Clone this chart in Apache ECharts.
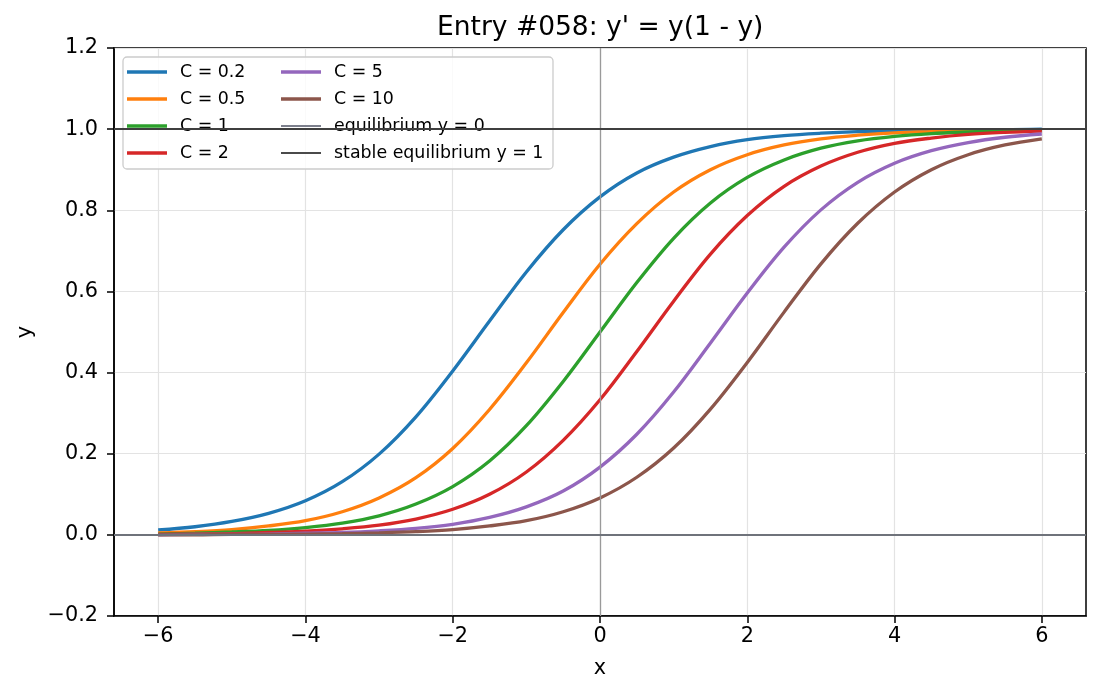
<!DOCTYPE html>
<html>
<head>
<meta charset="utf-8">
<script src="https://cdn.jsdelivr.net/npm/echarts@6/dist/echarts.min.js"></script>
<style>
  html, body { margin: 0; padding: 0; background: #fff; }
  #chart { width: 1102px; height: 696px; }
</style>
</head>
<body>
<div id="chart"></div>
<script>
// x samples
const xs = [-6, -5.5, -5, -4.5, -4, -3.5, -3, -2.5, -2, -1.5, -1, -0.5, 0,
            0.5, 1, 1.5, 2, 2.5, 3, 3.5, 4, 4.5, 5, 5.5, 6];
const yC02 = [0.012, 0.020, 0.033, 0.053, 0.084, 0.131, 0.199, 0.291, 0.404, 0.527, 0.648, 0.752, 0.833,
              0.892, 0.931, 0.957, 0.974, 0.984, 0.990, 0.994, 0.996, 0.998, 0.999, 0.999, 1.000];
const yC05 = [0.005, 0.008, 0.013, 0.022, 0.035, 0.057, 0.091, 0.141, 0.213, 0.309, 0.424, 0.548, 0.667,
              0.767, 0.845, 0.900, 0.937, 0.961, 0.976, 0.985, 0.991, 0.994, 0.997, 0.998, 0.999];
const yC1 = [0.002, 0.004, 0.007, 0.011, 0.018, 0.029, 0.047, 0.076, 0.119, 0.182, 0.269, 0.378, 0.500,
             0.622, 0.731, 0.818, 0.881, 0.924, 0.953, 0.971, 0.982, 0.989, 0.993, 0.996, 0.998];
const yC2 = [0.001, 0.002, 0.003, 0.006, 0.009, 0.015, 0.024, 0.039, 0.063, 0.100, 0.155, 0.233, 0.333,
             0.452, 0.576, 0.692, 0.787, 0.859, 0.909, 0.943, 0.965, 0.978, 0.987, 0.992, 0.995];
const yC5 = [0.000, 0.001, 0.001, 0.002, 0.004, 0.006, 0.010, 0.016, 0.026, 0.043, 0.069, 0.108, 0.167,
             0.248, 0.352, 0.473, 0.596, 0.709, 0.801, 0.869, 0.916, 0.947, 0.967, 0.980, 0.988];
const yC10 = [0.000, 0.000, 0.001, 0.001, 0.002, 0.003, 0.005, 0.008, 0.013, 0.022, 0.035, 0.057, 0.091,
              0.142, 0.214, 0.310, 0.425, 0.549, 0.668, 0.768, 0.845, 0.900, 0.937, 0.961, 0.976];

const curveNames = ['C = 0.2', 'C = 0.5', 'C = 1', 'C = 2', 'C = 5', 'C = 10'];
const curveValues = [yC02, yC05, yC1, yC2, yC5, yC10];
const colors = ['#1f77b4', '#ff7f0e', '#2ca02c', '#d62728', '#9467bd', '#8c564b'];

const xTicks = [-6, -4, -2, 0, 2, 4, 6];
const xRange = [-6.6, 6.6];
const yRange = [-0.2, 1.2];
const equilibria = [0, 1];

const FONT = 'DejaVu Sans';
const minus = s => String(s).replace('-', '\u2212');

const chart = echarts.init(document.getElementById('chart'));

const series = curveNames.map((name, i) => ({
    name: name,
    type: 'line',
    data: xs.map((x, j) => [x, curveValues[i][j]]),
    smooth: 0.35,
    symbol: 'none',
    color: colors[i],
    lineStyle: { width: 3.3, color: colors[i] },
    z: 2
}));

// vertical reference at x = 0 (no legend entry)
series.push({
    name: 'xzero',
    type: 'line',
    data: [],
    symbol: 'none',
    silent: true,
    markLine: {
        symbol: 'none', silent: true, label: { show: false },
        lineStyle: { color: '#9a9a9a', width: 1.3, type: 'solid' },
        data: [{ xAxis: 0 }]
    }
});
series.push({
    name: 'equilibrium y = 0',
    type: 'line',
    data: [],
    symbol: 'none',
    color: '#7c7f8c',
    lineStyle: { width: 2, color: '#7c7f8c' },
    markLine: {
        symbol: 'none', silent: true, label: { show: false },
        lineStyle: { color: '#6f737b', width: 2, type: 'solid' },
        data: [{ yAxis: equilibria[0] }]
    },
    z: 3
});
series.push({
    name: 'stable equilibrium y = 1',
    type: 'line',
    data: [],
    symbol: 'none',
    color: '#4a4a4a',
    lineStyle: { width: 2, color: '#4a4a4a' },
    markLine: {
        symbol: 'none', silent: true, label: { show: false },
        lineStyle: { color: '#3f3f3f', width: 2, type: 'solid' },
        data: [{ yAxis: equilibria[1] }]
    },
    z: 3
});

const thickIcon = 'path://M0,0L40,0L40,3.3L0,3.3Z';
const thinIcon = 'path://M0,0L40,0L40,2L0,2Z';

const legendBase = {
    orient: 'vertical',
    top: 63,
    padding: 0,
    itemWidth: 40,
    itemHeight: 14,
    itemGap: 9,
    symbolKeepAspect: true,
    textStyle: { fontFamily: FONT, fontSize: 17.4, color: '#000', lineHeight: 18, padding: [0, 0, 0, 8] },
    selectedMode: false,
    z: 5
};

const option = {
    animation: false,
    backgroundColor: '#fff',
    textStyle: { fontFamily: FONT },
    title: {
        text: "Entry #058: y' = y(1 - y)",
        left: 437,
        top: 15,
        padding: 0,
        textStyle: { fontFamily: FONT, fontSize: 26.5, fontWeight: 'normal', color: '#000' }
    },
    grid: {
        left: 114, right: 16, top: 48, bottom: 80,
        show: true, borderColor: '#000', borderWidth: 1.5, backgroundColor: 'transparent'
    },
    graphic: [{
        type: 'rect',
        shape: { x: 123, y: 57, width: 430, height: 112, r: 4 },
        style: { fill: 'rgba(255,255,255,0.8)', stroke: '#cccccc', lineWidth: 1.3 },
        z: 4,
        silent: true
    }],
    legend: [
        Object.assign({}, legendBase, {
            left: 127,
            data: curveNames.slice(0, 4).map(n => ({ name: n, icon: thickIcon }))
        }),
        Object.assign({}, legendBase, {
            left: 281,
            data: curveNames.slice(4).map(n => ({ name: n, icon: thickIcon })).concat([
                { name: 'equilibrium y = 0', icon: thinIcon },
                { name: 'stable equilibrium y = 1', icon: thinIcon }
            ])
        })
    ],
    xAxis: {
        type: 'value',
        min: xRange[0],
        max: xRange[1],
        name: 'x',
        nameLocation: 'middle',
        nameGap: 42,
        nameTextStyle: { fontFamily: FONT, fontSize: 20.8, color: '#000' },
        axisLine: { show: true, onZero: false, lineStyle: { color: '#000', width: 1.5 } },
        axisTick: { show: true, length: 7, customValues: xTicks, lineStyle: { color: '#000', width: 1.5 } },
        axisLabel: {
            customValues: xTicks, margin: 10,
            fontFamily: FONT, fontSize: 20.8, color: '#000',
            formatter: v => minus(v)
        },
        splitLine: { show: true, lineStyle: { color: '#e3e3e3', width: 1.2 } }
    },
    yAxis: {
        type: 'value',
        min: yRange[0],
        max: yRange[1],
        interval: 0.2,
        name: 'y',
        nameLocation: 'middle',
        nameGap: 78,
        nameTextStyle: { fontFamily: FONT, fontSize: 20.8, color: '#000' },
        axisLine: { show: true, onZero: false, lineStyle: { color: '#000', width: 1.5 } },
        axisTick: { show: true, length: 7, lineStyle: { color: '#000', width: 1.5 } },
        axisLabel: {
            margin: 16,
            fontFamily: FONT, fontSize: 20.8, color: '#000',
            formatter: v => minus(v.toFixed(1))
        },
        splitLine: { show: true, lineStyle: { color: '#e3e3e3', width: 1.2 } }
    },
    series: series
};

chart.setOption(option);
</script>
</body>
</html>
